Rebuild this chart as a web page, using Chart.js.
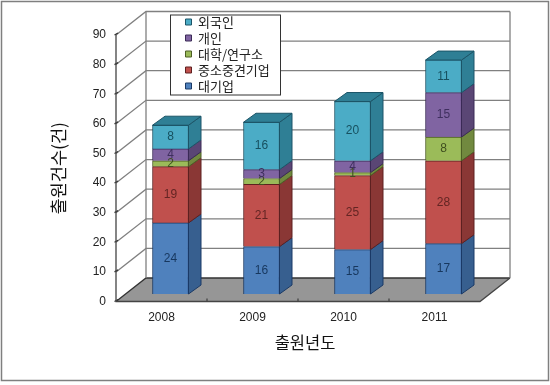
<!DOCTYPE html>
<html>
<head>
<meta charset="utf-8">
<style>
    html, body { margin: 0; padding: 0; background: #fff; }
    #wrap { width: 550px; height: 385px; }
</style>
<script src="https://cdn.jsdelivr.net/npm/chart.js@4"></script>
</head>
<body>
<div id="wrap"><canvas id="chart" width="550" height="385"></canvas></div>
<script>
const years = ["2008", "2009", "2010", "2011"];
const seriesNames = ["대기업", "중소중견기업", "대학/연구소", "개인", "외국인"];
const bigCorp = [24, 16, 15, 17];
const smallCorp = [19, 21, 25, 28];
const university = [2, 2, 1, 8];
const person = [4, 3, 4, 15];
const foreigner = [8, 16, 20, 11];
const yTicks = [0, 10, 20, 30, 40, 50, 60, 70, 80, 90];

const seriesValues = [bigCorp, smallCorp, university, person, foreigner];
const frontColors = ["#4f81bd", "#c0504d", "#9bbb59", "#8064a2", "#4bacc6"];
const sideColors = ["#375f8f", "#8a3735", "#71893f", "#5a4675", "#2f7f95"];
const edgeColors = ["#1b3a66", "#5e2020", "#4d5f25", "#3b2a57", "#1c5568"];
const textColors = ["#17375e", "#632523", "#3f4f1f", "#3f2f5f", "#17505f"];

const fontCJK = '"Noto Sans CJK KR", "Noto Sans", sans-serif';
const fontNum = '"Liberation Sans", Arial, sans-serif';

// 3D look: wall depth, where bars stand on the floor, and bar thickness
const wall = { dx: 30, dy: -23.5 };
const barShift = { dx: 9, dy: -7.5 };
const barDepth = { dx: 12.5, dy: -9 };

const walls3d = {
    id: "walls3d",
    afterLayout(chart) {
        // put the legend where it was in the original, inside the back wall
        const lg = chart.legend;
        lg.left = 182.5; lg.top = 12.5;
        lg.right = 280; lg.bottom = 110;
        lg.width = 97.5; lg.height = 97.5;
        // the x title sits a bit right of the axis centre in the original
        chart.scales.x.right += 14;
    },
    beforeDraw(chart) {
        const { ctx, chartArea: a, scales } = chart;
        const y = scales.y;
        ctx.save();
        // outer frame
        ctx.fillStyle = "#fff";
        ctx.fillRect(0, 0, 550, 385);
        ctx.strokeStyle = "#7f7f7f";
        ctx.lineWidth = 1.5;
        ctx.strokeRect(1.5, 1.5, 547, 379);

        // floor
        ctx.beginPath();
        ctx.moveTo(a.left, a.bottom);
        ctx.lineTo(a.left + wall.dx, a.bottom + wall.dy);
        ctx.lineTo(a.right + wall.dx, a.bottom + wall.dy);
        ctx.lineTo(a.right, a.bottom);
        ctx.closePath();
        ctx.fillStyle = "#969696";
        ctx.fill();

        // grid lines on the back wall and the left wall
        yTicks.forEach(v => {
            const py = y.getPixelForValue(v);
            ctx.strokeStyle = v === 0 ? "#333" : "#808080";
            ctx.lineWidth = 1.3;
            ctx.beginPath();
            ctx.moveTo(a.left, py);
            ctx.lineTo(a.left + wall.dx, py + wall.dy);
            ctx.lineTo(a.right + wall.dx, py + wall.dy);
            ctx.stroke();
            // small tick at the axis
            ctx.strokeStyle = "#333";
            ctx.beginPath();
            ctx.moveTo(a.left - 1.5, py);
            ctx.lineTo(a.left + 2, py - 2);
            ctx.stroke();
        });

        ctx.strokeStyle = "#808080";
        ctx.beginPath();
        ctx.moveTo(a.left + wall.dx, a.top + wall.dy);
        ctx.lineTo(a.left + wall.dx, a.bottom + wall.dy);
        ctx.moveTo(a.right + wall.dx, a.top + wall.dy);
        ctx.lineTo(a.right + wall.dx, a.bottom + wall.dy);
        ctx.stroke();

        // front axes
        ctx.strokeStyle = "#444";
        ctx.lineWidth = 1.3;
        ctx.beginPath();
        ctx.moveTo(a.left, a.top);
        ctx.lineTo(a.left, a.bottom);
        ctx.lineTo(a.right, a.bottom);
        ctx.lineTo(a.right + wall.dx, a.bottom + wall.dy);
        ctx.stroke();
        const step = (a.right - a.left) / years.length;
        for (let i = 1; i < years.length; i++) {
            ctx.beginPath();
            ctx.moveTo(a.left + step * i, a.bottom);
            ctx.lineTo(a.left + step * i, a.bottom - 3);
            ctx.stroke();
        }

        // legend frame
        ctx.fillStyle = "#fff";
        ctx.fillRect(170.5, 15, 110, 80);
        ctx.strokeStyle = "#333";
        ctx.lineWidth = 1;
        ctx.strokeRect(170.5, 15, 110, 80);
        ctx.restore();
    },
    beforeDatasetsDraw(chart) {
        const { ctx } = chart;
        ctx.save();
        ctx.translate(barShift.dx, barShift.dy);
        // side and top faces, bottom segment first
        chart.data.datasets.forEach((ds, i) => {
            const meta = chart.getDatasetMeta(i);
            meta.data.forEach(bar => {
                const r = bar.x + bar.width / 2, l = bar.x - bar.width / 2;
                const t = bar.y, b = bar.base;
                ctx.strokeStyle = edgeColors[i];
                ctx.lineWidth = 1;
                ctx.fillStyle = sideColors[i];
                ctx.beginPath();
                ctx.moveTo(r, t);
                ctx.lineTo(r + barDepth.dx, t + barDepth.dy);
                ctx.lineTo(r + barDepth.dx, b + barDepth.dy);
                ctx.lineTo(r, b);
                ctx.closePath();
                ctx.fill();
                ctx.stroke();
                if (i === chart.data.datasets.length - 1) {
                    ctx.beginPath();
                    ctx.moveTo(l, t);
                    ctx.lineTo(l + barDepth.dx, t + barDepth.dy);
                    ctx.lineTo(r + barDepth.dx, t + barDepth.dy);
                    ctx.lineTo(r, t);
                    ctx.closePath();
                    ctx.fill();
                    ctx.stroke();
                }
            });
        });
    },
    afterDatasetsDraw(chart) {
        const { ctx } = chart;
        // value labels, still in the shifted space of the bars
        ctx.textAlign = "center";
        ctx.textBaseline = "middle";
        ctx.font = "12px " + fontNum;
        chart.data.datasets.forEach((ds, i) => {
            chart.getDatasetMeta(i).data.forEach((bar, j) => {
                ctx.fillStyle = textColors[i];
                ctx.fillText(ds.data[j], bar.x, (bar.y + bar.base) / 2);
            });
        });
        ctx.restore();
    }
};

new Chart(document.getElementById("chart"), {
    type: "bar",
    data: {
        labels: years,
        datasets: seriesNames.map((name, i) => ({
            label: name,
            data: seriesValues[i],
            backgroundColor: frontColors[i],
            borderColor: edgeColors[i],
            borderWidth: 1,
            barThickness: 36,
            clip: false
        }))
    },
    options: {
        responsive: false,
        animation: false,
        layout: { padding: { left: 0, top: 35, right: 70, bottom: 0 } },
        plugins: {
            tooltip: { enabled: false },
            legend: {
                position: "chartArea",
                align: "start",
                reverse: true,
                labels: {
                    boxWidth: 6,
                    boxHeight: 6,
                    padding: 3,
                    color: "#222",
                    font: { family: fontCJK, size: 13, lineHeight: 1.15 }
                }
            }
        },
        scales: {
            x: {
                stacked: true,
                grid: { display: false, drawTicks: false },
                border: { display: false },
                ticks: { padding: 9, color: "#222", font: { family: fontNum, size: 12 } },
                title: {
                    display: true,
                    text: "출원년도",
                    color: "#111",
                    padding: { top: 9, bottom: 32 },
                    font: { family: fontCJK, size: 16.5 }
                },
                afterFit(scale) { scale.height = 83.5; }
            },
            y: {
                stacked: true,
                min: 0,
                max: 90,
                afterBuildTicks(scale) { scale.ticks = yTicks.map(v => ({ value: v })); },
                grid: { display: false, drawTicks: false },
                border: { display: false },
                ticks: { padding: 10, color: "#222", font: { family: fontNum, size: 12 } },
                title: {
                    display: true,
                    text: "출원건수(건)",
                    color: "#111",
                    padding: { top: 48, bottom: 0 },
                    font: { family: fontCJK, size: 17.5 }
                },
                afterFit(scale) { scale.width = 116; }
            }
        }
    },
    plugins: [walls3d]
});
</script>
</body>
</html>
